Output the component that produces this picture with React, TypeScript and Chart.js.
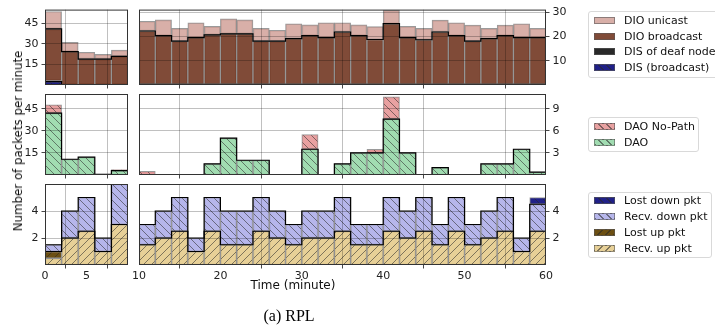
import React, { useEffect, useRef } from 'react';
import { Chart, registerables } from 'chart.js';
Chart.register(...registerables);

const PAGE_W = 715;
const PAGE_H = 329;
const BIN = 2;

// bin start minutes
const leftBins = [0, 2, 4, 6, 8];
const rightBins = [10, 12, 14, 16, 18, 20, 22, 24, 26, 28, 30, 32, 34, 36, 38, 40, 42, 44, 46, 48, 50, 52, 54, 56, 58];
const leftXTicks = [0, 5];
const rightXTicks = [10, 20, 30, 40, 50, 60];

// Row 1: DIO / DIS
const disBroadcastL = [2.5, 0, 0, 0, 0];
const disDeafL = [0.5, 0.3, 0.3, 0.3, 0.3];
const dioBroadcastL = [37.9, 24.0, 18.6, 18.6, 20.6];
const dioUnicastL = [12.7, 6.9, 5.0, 3.4, 4.5];
const disBroadcastR = [0, 0, 0, 0, 0, 0, 0, 0, 0, 0, 0, 0, 0, 0, 0, 0, 0, 0, 0, 0, 0, 0, 0, 0, 0];
const disDeafR = [0.3, 0.3, 0.3, 0.3, 0.3, 0.3, 0.3, 0.3, 0.3, 0.3, 0.3, 0.3, 0.3, 0.3, 0.3, 0.3, 0.3, 0.3, 0.3, 0.3, 0.3, 0.3, 0.3, 0.3, 0.3];
const dioBroadcastR = [21.9, 20.0, 17.7, 19.2, 20.3, 20.7, 20.7, 17.7, 17.7, 18.8, 20.0, 19.2, 21.5, 20.0, 18.4, 24.9, 19.2, 18.3, 21.5, 20.0, 17.7, 18.8, 20.0, 19.2, 19.2];
const dioUnicastR = [4.0, 6.5, 5.3, 6.1, 3.5, 6.2, 5.8, 5.3, 4.5, 6.1, 4.4, 6.1, 3.8, 4.4, 5.3, 5.6, 4.6, 4.7, 4.9, 5.3, 6.6, 4.2, 4.3, 5.7, 3.8];

// Row 2: DAO
const daoL = [42.0, 10.7, 12.1, 0.5, 3.0];
const daoNoPathL = [5.7, 0, 0, 0, 0.7];
const daoR = [0, 0, 0, 0, 1.5, 5.0, 2.0, 2.0, 0, 0, 3.5, 0, 1.5, 3.0, 3.0, 7.6, 3.0, 0, 1.0, 0, 0, 1.5, 1.5, 3.5, 0.4];
const daoNoPathR = [0.5, 0, 0, 0, 0, 0, 0, 0, 0, 0, 2.0, 0, 0, 0, 0.5, 3.0, 0, 0, 0, 0, 0, 0, 0, 0, 0];

// Row 3: packets
const recvUpL = [0.5, 2, 2.5, 1, 3];
const lostUpL = [0.5, 0, 0, 0, 0];
const recvDownL = [0.5, 2, 2.5, 1, 3];
const lostDownL = [0, 0, 0, 0, 0];
const recvUpR = [1.5, 2, 2.5, 1, 2.5, 1.5, 1.5, 2.5, 2, 1.5, 2, 2, 2.5, 1.5, 1.5, 2.5, 2, 2.5, 1.5, 2.5, 1.5, 2, 2.5, 1, 2.5];
const lostUpR = [0, 0, 0, 0, 0, 0, 0, 0, 0, 0, 0, 0, 0, 0, 0, 0, 0, 0, 0, 0, 0, 0, 0, 0, 0];
const recvDownR = [1.5, 2, 2.5, 1, 2.5, 2.5, 2.5, 2.5, 2, 1.5, 2, 2, 2.5, 1.5, 1.5, 2.5, 2, 2.5, 1.5, 2.5, 1.5, 2, 2.5, 1, 2];
const lostDownR = [0, 0, 0, 0, 0, 0, 0, 0, 0, 0, 0, 0, 0, 0, 0, 0, 0, 0, 0, 0, 0, 0, 0, 0, 0.5];

// y axes
const row1LeftTicks = [15, 30, 45];
const row1RightTicks = [10, 20, 30];
const row2LeftTicks = [15, 30, 45];
const row2RightTicks = [3, 6, 9];
const row3Ticks = [2, 4];

// colours
const C = {
  dioUnicast: 'rgba(205,152,143,0.78)',
  dioBroadcast: 'rgba(110,50,28,0.88)',
  disDeaf: 'rgba(30,30,30,0.95)',
  disBroadcast: 'rgba(20,20,130,0.95)',
  daoNoPath: 'rgba(226,138,138,0.8)',
  dao: 'rgba(140,212,160,0.82)',
  lostDown: 'rgba(20,20,130,0.95)',
  recvDown: 'rgba(166,166,230,0.82)',
  lostUp: 'rgba(100,70,5,0.95)',
  recvUp: 'rgba(226,198,128,0.82)',
};
const HATCH_LINE = 'rgba(40,40,40,0.55)';

type Hatch = '/' | '\\' | null;

function makeHatch(bg: string, dir: Hatch): string | CanvasPattern {
  if (!dir) return bg;
  const c = document.createElement('canvas');
  c.width = 8;
  c.height = 8;
  const g = c.getContext('2d')!;
  g.fillStyle = bg;
  g.fillRect(0, 0, 8, 8);
  g.strokeStyle = HATCH_LINE;
  g.lineWidth = 1;
  g.beginPath();
  if (dir === '\\') {
    g.moveTo(-2, -2); g.lineTo(10, 10);
    g.moveTo(-2, 6); g.lineTo(2, 10);
    g.moveTo(6, -2); g.lineTo(10, 2);
  } else {
    g.moveTo(-2, 10); g.lineTo(10, -2);
    g.moveTo(-2, 2); g.lineTo(2, -2);
    g.moveTo(6, 10); g.lineTo(10, 6);
  }
  g.stroke();
  return g.createPattern(c, 'repeat') as CanvasPattern;
}

type Layer = { label: string; values: number[]; color: string; hatch: Hatch };

type PanelSpec = {
  rect: { left: number; top: number; right: number; bottom: number };
  bins: number[];
  xMin: number;
  xMax: number;
  xTicks: number[];
  showXLabels: boolean;
  yMax: number;
  yTicks: number[];
  ySide: 'left' | 'right';
  layers: Layer[];
  steps: number[]; // number of bottom layers summed for each black step outline
};

const framePlugin = {
  id: 'frame',
  afterDraw(chart: any) {
    const { ctx, chartArea: a } = chart;
    ctx.save();
    ctx.strokeStyle = '#333';
    ctx.lineWidth = 1;
    ctx.strokeRect(a.left + 0.5, a.top + 0.5, a.right - a.left - 1, a.bottom - a.top - 1);
    ctx.restore();
  },
};

const FONT = { family: 'DejaVu Sans', size: 11 };
const X_AXIS_H = 22;
const Y_AXIS_W = 40;

function buildConfig(p: PanelSpec): any {
  const datasets: any[] = p.layers.map((l) => ({
    type: 'bar',
    label: l.label,
    data: p.bins.map((s, i) => ({ x: s + BIN / 2, y: l.values[i] })),
    backgroundColor: makeHatch(l.color, l.hatch),
    borderColor: 'rgba(120,120,120,0.75)',
    borderWidth: 1,
    borderSkipped: false,
    stack: 'main',
    categoryPercentage: 1,
    barPercentage: 1,
    order: 1,
  }));
  p.steps.forEach((n, k) => {
    const cum = p.bins.map((_, i) => p.layers.slice(0, n).reduce((acc, l) => acc + l.values[i], 0));
    const pts = p.bins.map((s, i) => ({ x: s, y: cum[i] }));
    pts.push({ x: p.bins[p.bins.length - 1] + BIN, y: cum[cum.length - 1] });
    datasets.push({
      type: 'line',
      label: 'step' + k,
      data: pts,
      stepped: 'before',
      borderColor: '#000',
      borderWidth: 1.2,
      pointRadius: 0,
      fill: false,
      stack: 'step' + k,
      order: 0,
    });
  });
  const yw = p.ySide === 'left' ? p.rect.left - 2 : Y_AXIS_W;
  const padding = {
    left: p.ySide === 'left' ? 2 : p.rect.left,
    top: p.rect.top,
    right: p.ySide === 'left' ? PAGE_W - p.rect.right : PAGE_W - p.rect.right - Y_AXIS_W,
    bottom: PAGE_H - p.rect.bottom - X_AXIS_H,
  };
  const grid = { color: 'rgba(0,0,0,0.28)', lineWidth: 0.9, tickColor: '#333', tickLength: 3.5, drawTicks: true, z: 1 };
  return {
    type: 'bar',
    data: { datasets },
    plugins: [framePlugin],
    options: {
      responsive: false,
      animation: false,
      events: [],
      layout: { padding },
      plugins: { legend: { display: false }, tooltip: { enabled: false }, title: { display: false } },
      scales: {
        x: {
          type: 'linear',
          stacked: true,
          min: p.xMin,
          max: p.xMax,
          offset: false,
          afterFit: (s: any) => { s.height = X_AXIS_H; },
          afterBuildTicks: (s: any) => { s.ticks = p.xTicks.map((v) => ({ value: v })); },
          grid,
          border: { display: false },
          ticks: {
            display: p.showXLabels,
            autoSkip: false,
            maxRotation: 0,
            padding: 1,
            color: '#222',
            font: FONT,
            callback: (v: any) => String(v),
          },
        },
        y: {
          type: 'linear',
          stacked: true,
          position: p.ySide,
          min: 0,
          max: p.yMax,
          afterFit: (s: any) => { s.width = yw; },
          afterBuildTicks: (s: any) => { s.ticks = p.yTicks.map((v) => ({ value: v })); },
          grid,
          border: { display: false },
          ticks: { autoSkip: false, padding: 3, color: '#222', font: FONT, callback: (v: any) => String(v) },
        },
      },
    },
  };
}

function Panel({ spec }: { spec: PanelSpec }) {
  const ref = useRef<HTMLCanvasElement | null>(null);
  useEffect(() => {
    if (!ref.current) return;
    const chart = new Chart(ref.current, buildConfig(spec));
    return () => chart.destroy();
  }, [spec]);
  return (
    <canvas
      ref={ref}
      width={PAGE_W}
      height={PAGE_H}
      style={{ position: 'absolute', left: 0, top: 0, width: PAGE_W, height: PAGE_H }}
    />
  );
}

const LX = { left: 45, right: 128 };
const RX = { left: 139, right: 546 };
const ROWS = [
  { top: 4, bottom: 85 },
  { top: 94, bottom: 175 },
  { top: 184, bottom: 265 },
];

const row1Layers = (dis: number[], deaf: number[], bc: number[], uc: number[]): Layer[] => [
  { label: 'DIS (broadcast)', values: dis, color: C.disBroadcast, hatch: '\\' },
  { label: 'DIS of deaf node', values: deaf, color: C.disDeaf, hatch: null },
  { label: 'DIO broadcast', values: bc, color: C.dioBroadcast, hatch: null },
  { label: 'DIO unicast', values: uc, color: C.dioUnicast, hatch: null },
];
const row2Layers = (dao: number[], np: number[]): Layer[] => [
  { label: 'DAO', values: dao, color: C.dao, hatch: '\\' },
  { label: 'DAO No-Path', values: np, color: C.daoNoPath, hatch: '\\' },
];
const row3Layers = (ru: number[], lu: number[], rd: number[], ld: number[]): Layer[] => [
  { label: 'Recv. up pkt', values: ru, color: C.recvUp, hatch: '/' },
  { label: 'Lost up pkt', values: lu, color: C.lostUp, hatch: '/' },
  { label: 'Recv. down pkt', values: rd, color: C.recvDown, hatch: '\\' },
  { label: 'Lost down pkt', values: ld, color: C.lostDown, hatch: '\\' },
];

const PANELS: PanelSpec[] = [
  {
    rect: { ...LX, ...ROWS[0] }, bins: leftBins, xMin: 0, xMax: 10, xTicks: leftXTicks, showXLabels: false,
    yMax: 55, yTicks: row1LeftTicks, ySide: 'left',
    layers: row1Layers(disBroadcastL, disDeafL, dioBroadcastL, dioUnicastL), steps: [1, 3],
  },
  {
    rect: { ...RX, ...ROWS[0] }, bins: rightBins, xMin: 10, xMax: 60, xTicks: rightXTicks, showXLabels: false,
    yMax: 31, yTicks: row1RightTicks, ySide: 'right',
    layers: row1Layers(disBroadcastR, disDeafR, dioBroadcastR, dioUnicastR), steps: [2, 3],
  },
  {
    rect: { ...LX, ...ROWS[1] }, bins: leftBins, xMin: 0, xMax: 10, xTicks: leftXTicks, showXLabels: false,
    yMax: 55, yTicks: row2LeftTicks, ySide: 'left',
    layers: row2Layers(daoL, daoNoPathL), steps: [1],
  },
  {
    rect: { ...RX, ...ROWS[1] }, bins: rightBins, xMin: 10, xMax: 60, xTicks: rightXTicks, showXLabels: false,
    yMax: 11, yTicks: row2RightTicks, ySide: 'right',
    layers: row2Layers(daoR, daoNoPathR), steps: [1],
  },
  {
    rect: { ...LX, ...ROWS[2] }, bins: leftBins, xMin: 0, xMax: 10, xTicks: leftXTicks, showXLabels: true,
    yMax: 6, yTicks: row3Ticks, ySide: 'left',
    layers: row3Layers(recvUpL, lostUpL, recvDownL, lostDownL), steps: [2, 3],
  },
  {
    rect: { ...RX, ...ROWS[2] }, bins: rightBins, xMin: 10, xMax: 60, xTicks: rightXTicks, showXLabels: true,
    yMax: 6, yTicks: row3Ticks, ySide: 'right',
    layers: row3Layers(recvUpR, lostUpR, recvDownR, lostDownR), steps: [2, 3],
  },
];

type LegendItem = { label: string; color: string; hatch: Hatch };
const legend1: LegendItem[] = [
  { label: 'DIO unicast', color: C.dioUnicast, hatch: null },
  { label: 'DIO broadcast', color: C.dioBroadcast, hatch: null },
  { label: 'DIS of deaf node', color: C.disDeaf, hatch: null },
  { label: 'DIS (broadcast)', color: C.disBroadcast, hatch: '\\' },
];
const legend2: LegendItem[] = [
  { label: 'DAO No-Path', color: C.daoNoPath, hatch: '\\' },
  { label: 'DAO', color: C.dao, hatch: '\\' },
];
const legend3: LegendItem[] = [
  { label: 'Lost down pkt', color: C.lostDown, hatch: '\\' },
  { label: 'Recv. down pkt', color: C.recvDown, hatch: '\\' },
  { label: 'Lost up pkt', color: C.lostUp, hatch: '/' },
  { label: 'Recv. up pkt', color: C.recvUp, hatch: '/' },
];

function patchBg(color: string, hatch: Hatch): string {
  if (!hatch) return color;
  const ang = hatch === '\\' ? '45deg' : '-45deg';
  return `repeating-linear-gradient(${ang}, ${HATCH_LINE} 0px, ${HATCH_LINE} 1px, transparent 1px, transparent 5.6px), ${color}`;
}

function Legend({ left, top, width, height, items, firstY, step }: {
  left: number; top: number; width: number; height: number; items: LegendItem[]; firstY: number; step: number;
}) {
  return (
    <div style={{ position: 'absolute', left, top, width, height, border: '1px solid #d9d9d9', borderRadius: 3, background: 'rgba(255,255,255,0.8)', boxSizing: 'border-box' }}>
      {items.map((it, i) => {
        const cy = firstY + i * step - top;
        return (
          <React.Fragment key={it.label}>
            <div style={{ position: 'absolute', left: 593 - left, top: cy - 4, width: 21, height: 7, background: patchBg(it.color, it.hatch), border: '1px solid rgba(90,90,90,0.6)', boxSizing: 'border-box' }} />
            <div style={{ position: 'absolute', left: 623 - left, top: cy - 7, height: 14, lineHeight: '14px', fontSize: 11, whiteSpace: 'nowrap', color: '#111' }}>{it.label}</div>
          </React.Fragment>
        );
      })}
    </div>
  );
}

export default function App() {
  return (
    <div style={{ position: 'fixed', left: 0, top: 0, width: PAGE_W, height: PAGE_H, background: '#fff', overflow: 'hidden', fontFamily: 'DejaVu Sans' }}>
      {PANELS.map((p, i) => (
        <Panel key={i} spec={p} />
      ))}
      <div style={{ position: 'absolute', left: 18, top: 141, transform: 'translate(-50%, -50%) rotate(-90deg)', fontSize: 11.8, whiteSpace: 'nowrap', color: '#111' }}>
        Number of packets per minute
      </div>
      <div style={{ position: 'absolute', left: 293, top: 285, transform: 'translate(-50%, -50%)', fontSize: 12, whiteSpace: 'nowrap', color: '#111' }}>
        Time (minute)
      </div>
      <div style={{ position: 'absolute', left: 289, top: 316, transform: 'translate(-50%, -50%)', fontSize: 16, fontFamily: 'Liberation Serif', whiteSpace: 'nowrap', color: '#000' }}>
        (a) RPL
      </div>
      <Legend left={588} top={11} width={140} height={67} items={legend1} firstY={20} step={15.7} />
      <Legend left={588} top={117} width={111} height={35} items={legend2} firstY={126} step={16} />
      <Legend left={588} top={192} width={124} height={66} items={legend3} firstY={200} step={16} />
    </div>
  );
}
